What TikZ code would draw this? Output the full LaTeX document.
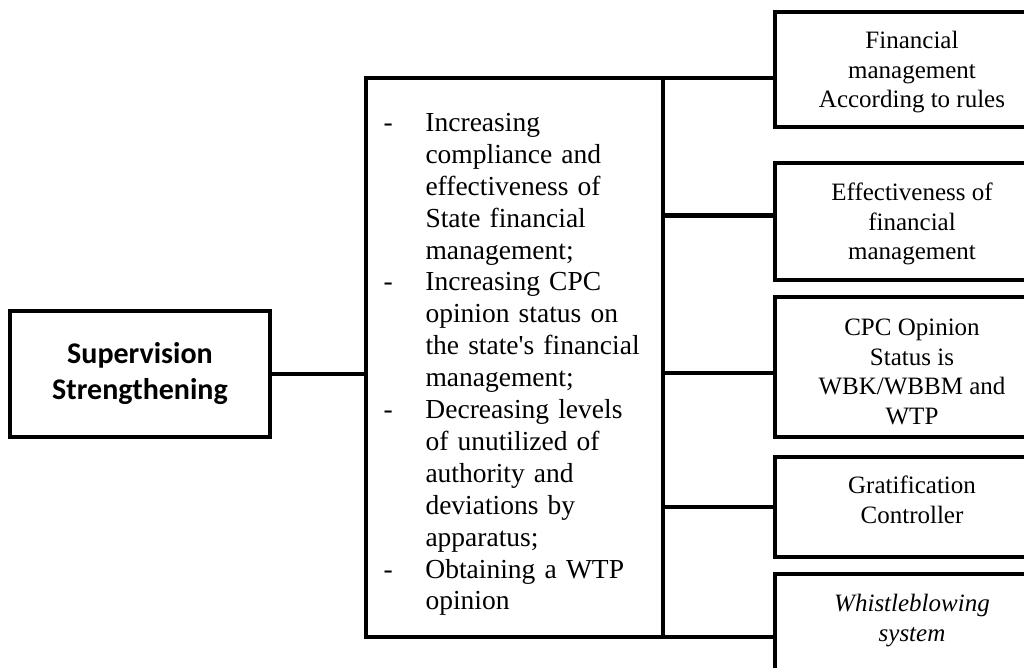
\documentclass[tikz,border=0pt]{standalone}
\usepackage{fontspec}
\newfontfamily\timesfont{Liberation Serif}
\newfontfamily\carlito{Carlito}
\usetikzlibrary{positioning}

\newcommand{\dashline}[1]{\makebox[42pt][l]{-}#1}
\newcommand{\restline}[1]{\hspace*{42pt}#1}

\tikzset{
  box/.style={draw=black, line width=4.5pt, inner sep=0pt, outer sep=0pt},
  rbox/.style={box, minimum width=274pt},
  rtext/.style={align=center, inner sep=0pt, font=\timesfont\fontsize{25}{29.5}\selectfont},
  link/.style={black, line width=4.5pt},
}

\begin{document}
\begin{tikzpicture}[x=1pt, y=-1pt]
\useasboundingbox (0,0) rectangle (1024,667);
% left box
\node[box, minimum width=260pt, minimum height=126pt, align=center,
  font=\carlito\bfseries\fontsize{30}{36}\selectfont] (sup) at (140,374) {Supervision\\Strengthening};
% middle box
\node[box, minimum width=297pt, minimum height=559pt] (goal) at (514.5,357.5) {};
\node[text width=262pt, align=left, inner sep=0pt, yshift=-7pt,
  font=\timesfont\fontsize{27.5}{31.9}\selectfont] (goaltxt) at (goal.center) {%
\dashline{Increasing}\\
\restline{compliance and}\\
\restline{effectiveness of}\\
\restline{State financial}\\
\restline{management;}\\
\dashline{Increasing CPC}\\
\restline{opinion status on}\\
\restline{the state's financial}\\
\restline{management;}\\
\dashline{Decreasing levels}\\
\restline{of unutilized of}\\
\restline{authority and}\\
\restline{deviations by}\\
\restline{apparatus;}\\
\dashline{Obtaining a WTP}\\
\restline{opinion}};
% right boxes
\node[rbox, minimum height=115pt] (fin) at (912,69.5) {};
\node[rbox, minimum height=117pt] (eff) at (912,221.5) {};
\node[rbox, minimum height=140pt] (cpc) at (912,367) {};
\node[rbox, minimum height=100pt] (grat) at (912,507) {};
\node[rbox, minimum height=126pt] (wb) at (912,637) {};
\node[rtext, below=19pt of fin.north] (fintxt) {Financial\\management\\According to rules};
\node[rtext, below=20pt of eff.north] (efftxt) {Effectiveness of\\financial\\management};
\node[rtext, below=22pt of cpc.north] (cpctxt) {CPC Opinion\\Status is\\WBK/WBBM and\\WTP};
\node[rtext, below=19pt of grat.north] (grattxt) {Gratification\\Controller};
\node[rtext, below=20pt of wb.north] (wbtxt) {\itshape Whistleblowing\\\itshape system};
% connectors
\draw[link] (sup.east) -- (sup.east -| goal.west);
\draw[link] (goal.north east) -- (goal.north east -| fin.west);
\draw[link] ([yshift=6pt]goal.east |- eff.west) -- ([yshift=6pt]eff.west);
\draw[link] ([yshift=-6pt]goal.east |- cpc.west) -- ([yshift=-6pt]cpc.west);
\draw[link] (goal.east |- grat.west) -- (grat.west);
\draw[link] (goal.south east) -- (goal.south east -| wb.west);
\end{tikzpicture}
\end{document}
